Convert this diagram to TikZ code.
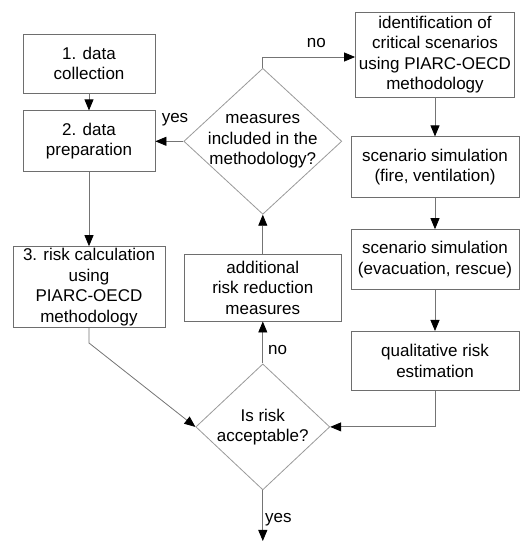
\documentclass[tikz,border=0pt]{standalone}
\usepackage{fontspec}
\setmainfont{Liberation Sans}
\usetikzlibrary{shapes.geometric, arrows.meta, positioning, calc}
\usepackage{xcolor}

\definecolor{boxline}{HTML}{6E6E6E}
\definecolor{decline}{HTML}{9A9A9A}
\definecolor{flowline}{HTML}{747474}

\begin{document}
\begin{tikzpicture}[
    x=1pt, y=1pt,
    node distance=20pt and 20pt,
    box/.style={rectangle, draw=boxline, line width=0.8pt, fill=white, align=center, inner sep=0pt, font=\fontsize{17}{20.5}\selectfont},
    decision/.style={diamond, draw=decline, line width=0.8pt, fill=white, align=center, inner sep=-15pt, font=\fontsize{17}{20.5}\selectfont},
    arrow/.style={-{Triangle[length=11pt, width=9pt, color=black]}, line width=0.8pt, draw=flowline},
    lbl/.style={font=\fontsize{17}{20}\selectfont, inner sep=1pt}
]
    \useasboundingbox (0,0) rectangle (520,542);

    \node (collect) [box, minimum width=132pt, minimum height=59pt] at (89,478.5) {1. data\\collection};
    \node (prepare) [box, below=17pt of collect, minimum width=132pt, minimum height=61pt] {2. data\\preparation};
    \node (calc) [box, below=74pt of prepare, minimum width=152pt, minimum height=81pt] {3. risk calculation\\using\\PIARC-OECD\\methodology};

    \node (included) [decision, right=28pt of prepare, minimum width=158pt, minimum height=146pt] {measures\\included in the\\methodology?};
    \node (additional) [box, below=39pt of included, minimum width=157pt, minimum height=67pt] {additional\\risk reduction\\measures};
    \node (acceptable) [decision, below=42pt of additional, minimum width=134pt, minimum height=126pt] {Is risk\\acceptable?};

    \node (identify) [box, minimum width=159pt, minimum height=85pt] at (435,487.5) {identification of\\critical scenarios\\using PIARC-OECD\\methodology};
    \node (fire) [box, below=39pt of identify, minimum width=168pt, minimum height=61pt] {scenario simulation\\(fire, ventilation)};
    \node (evac) [box, below=31pt of fire, minimum width=168pt, minimum height=60pt] {scenario simulation\\(evacuation, rescue)};
    \node (qual) [box, below=41pt of evac, minimum width=168pt, minimum height=59pt] {qualitative risk\\estimation};

    \coordinate (exit) at (acceptable.south |- 0,1);

    \draw [arrow] (collect) -- (prepare);
    \draw [arrow] (prepare) -- (calc);
    \draw [arrow] (included) -- node[lbl, above=14pt, pos=0.3] {yes} (prepare);
    \draw [arrow] (included.north) |- node[lbl, above=8pt, pos=0.79] {no} ([yshift=-2.5pt]identify.west);
    \draw [arrow] (identify) -- (fire);
    \draw [arrow] (fire) -- (evac);
    \draw [arrow] (evac) -- (qual);
    \draw [arrow] (qual.south) |- (acceptable.east);
    \draw [arrow] (calc.south) -- ++(0,-15pt) -- (acceptable.west);
    \draw [arrow] (acceptable) -- node[lbl, right=4pt, pos=0.33] {no} (additional);
    \draw [arrow] (additional) -- (included);
    \draw [arrow] (acceptable) -- node[lbl, right=1pt, pos=0.57] {yes} (exit);
\end{tikzpicture}
\end{document}
